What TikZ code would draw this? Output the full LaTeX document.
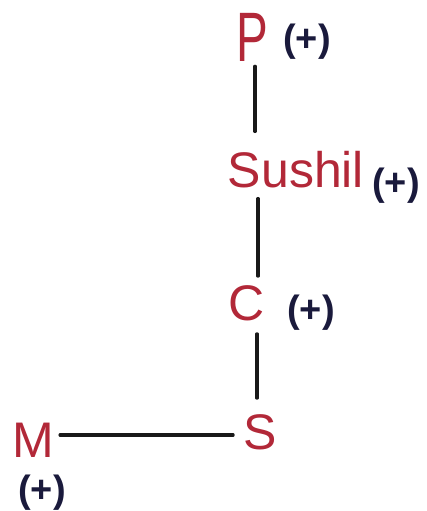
\documentclass[tikz,border=0pt]{standalone}
\usepackage{fontspec}
\usepackage{xcolor}
\usepackage{tikz}
\usetikzlibrary{positioning,calc}
\newfontfamily\handfont{Liberation Sans}
\newfontfamily\narrowfont[FakeStretch=0.68]{Liberation Sans}
\definecolor{person}{RGB}{178,40,56}
\definecolor{dead}{RGB}{26,26,60}
\definecolor{ink}{RGB}{25,25,25}

\begin{document}
\begin{tikzpicture}[x=1pt,y=-1pt,
  who/.style={inner sep=0pt,text=person,font=\handfont\fontsize{50}{50}\selectfont},
  plus/.style={inner sep=0pt,text=dead,font=\handfont\bfseries\fontsize{38}{38}\selectfont},
  link/.style={draw=ink,line width=3.2pt,line cap=round}]
\useasboundingbox (0,0) rectangle (427,511);
\node[who,font=\narrowfont\fontsize{70}{70}\selectfont] (p) at (252,37) {P};
\node[plus] (pd) at (307,42) {(+)};
\node[who] (sushil) at (296,170) {Sushil};
\node[plus] (sushild) at (396,186) {(+)};
\node[who] (c) at (247,303) {C};
\node[plus] (cd) at (311,313) {(+)};
\node[who] (s) at (260,432) {S};
\node[who] (m) at (33,440) {M};
\node[plus] (md) at (42,493) {(+)};
\coordinate (ps) at ($(p.south)+(3,0)$);
\coordinate (cn) at ($(c.north)+(11,0)$);
\coordinate (cs) at ($(c.south)+(10,0)$);
\coordinate (me) at ($(m.east)+(0,-5)$);
\draw[link,shorten <=5pt,shorten >=20pt] (ps) -- (ps |- sushil.north);
\draw[link,shorten <=10pt,shorten >=9pt] (cn |- sushil.south) -- (cn);
\draw[link,shorten <=13pt,shorten >=16pt] (cs) -- (cs |- s.north);
\draw[link,shorten <=6pt,shorten >=10pt] (me) -- (me -| s.west);
\end{tikzpicture}
\end{document}
